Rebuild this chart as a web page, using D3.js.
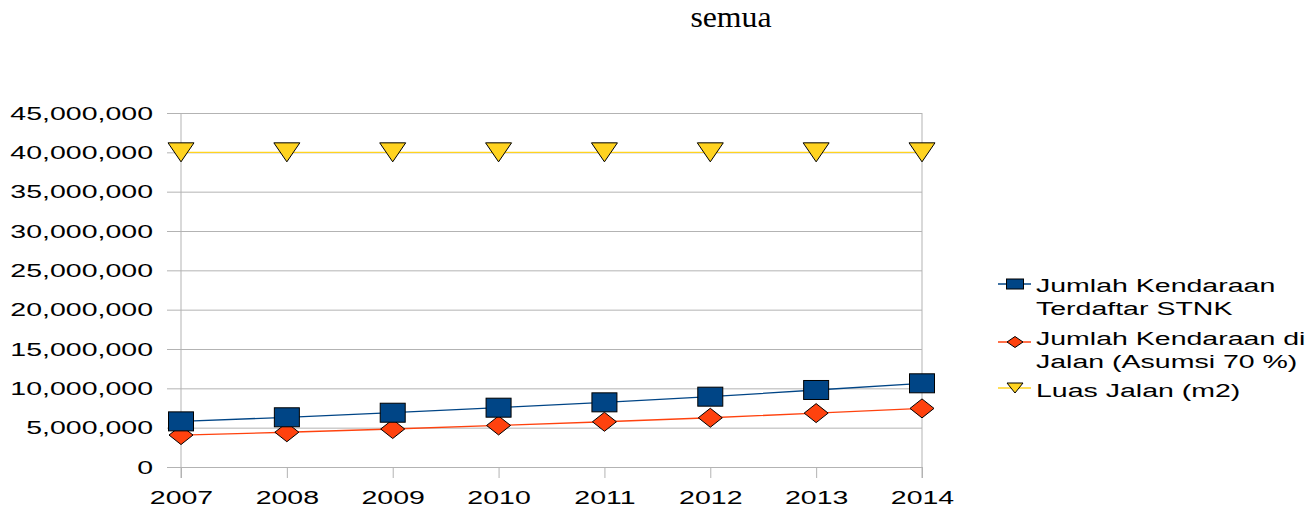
<!DOCTYPE html>
<html>
<head>
<meta charset="utf-8">
<title>semua</title>
<script src="https://d3js.org/d3.v7.min.js"></script>
<style>
	body { margin: 0; background: #fff; }
	text { font-family: "Liberation Sans", Arial, sans-serif; fill: #000; }
	.title { font-family: "Liberation Serif", "Times New Roman", serif; }
</style>
</head>
<body>
<script>
	// data
	var years = ["2007", "2008", "2009", "2010", "2011", "2012", "2013", "2014"];
	var stnk  = [5800000, 6320000, 6900000, 7540000, 8220000, 8940000, 9790000, 10640000];
	var jalan = [4060000, 4420000, 4830000, 5280000, 5750000, 6260000, 6850000, 7450000];
	var luas  = [40000000, 40000000, 40000000, 40000000, 40000000, 40000000, 40000000, 40000000];
	var yTicks = [0, 5000000, 10000000, 15000000, 20000000, 25000000, 30000000, 35000000, 40000000, 45000000];
	var seriesNames = [["Jumlah Kendaraan", "Terdaftar STNK"], ["Jumlah Kendaraan di", "Jalan (Asumsi 70 %)"], ["Luas Jalan (m2)"]];

	var W = 1311, H = 515;
	var plotL = 181, plotR = 922, plotT = 113, plotB = 467;
	var stretch = "scale(1.5,1)"; // the source image is stretched sideways

	var svg = d3.select("body").append("svg")
		.attr("width", W)
		.attr("height", H);

	var x = d3.scalePoint().domain(years).range([plotL, plotR]).padding(0);
	var y = d3.scaleLinear().domain([0, 45000000]).range([plotB, plotT]);

	// title
	svg.append("text")
		.attr("class", "title")
		.attr("x", 731)
		.attr("y", 27)
		.attr("text-anchor", "middle")
		.attr("transform", "translate(731,27) scale(1.06,1)")
		.attr("x", 0).attr("y", 0)
		.style("font-size", "30px")
		.text("semua");

	// y axis with gridlines
	var yAxis = svg.append("g")
		.attr("transform", "translate(" + plotL + ",0)")
		.call(d3.axisLeft(y).tickValues(yTicks).tickFormat(d3.format(","))
			.tickSizeInner(-(plotR - plotL)).tickSizeOuter(0).tickPadding(28));
	yAxis.select(".domain").remove();
	yAxis.selectAll("line").attr("x1", -14).attr("stroke", "#b3b3b3");
	yAxis.selectAll("text")
		.attr("x", null)
		.attr("transform", "translate(-28,0) " + stretch)
		.style("font-size", "19px");

	// x axis ticks
	var xAxis = svg.append("g")
		.attr("transform", "translate(0," + plotB + ")")
		.call(d3.axisBottom(x).tickSizeInner(11).tickSizeOuter(0));
	xAxis.select(".domain").remove();
	xAxis.selectAll("line").attr("stroke", "#b3b3b3");
	xAxis.selectAll("text")
		.attr("y", null)
		.attr("dy", null)
		.attr("transform", "translate(0,37) " + stretch)
		.style("font-size", "19px");

	// frame verticals
	[plotL, plotR].forEach(function(px){
		svg.append("line")
			.attr("x1", px).attr("x2", px)
			.attr("y1", plotT).attr("y2", plotB + 11)
			.attr("stroke", "#b3b3b3");
	});

	var line = d3.line()
		.x(function(d, i){ return x(years[i]); })
		.y(function(d){ return y(d); });

	function square(g, w, h){
		return g.append("rect").attr("x", -w/2).attr("y", -h/2).attr("width", w).attr("height", h);
	}
	function diamond(g, w, h){
		return g.append("path").attr("d", "M0," + (-h/2) + "L" + (w/2) + ",0L0," + (h/2) + "L" + (-w/2) + ",0Z");
	}
	function triangle(g, w, h){
		return g.append("path").attr("d", "M" + (-w/2) + "," + (-h/2) + "L" + (w/2) + "," + (-h/2) + "L0," + (h/2) + "Z");
	}

	var series = [
		{values: stnk,  color: "#004586", shape: square,   size: [25, 19], legSize: [17, 10]},
		{values: jalan, color: "#ff420e", shape: diamond,  size: [24, 19], legSize: [16, 11]},
		{values: luas,  color: "#ffd320", shape: triangle, size: [26, 19], legSize: [16, 10]}
	];

	// draw lines first, then markers on top
	series.slice().reverse().forEach(function(s){
		svg.append("path")
			.datum(s.values)
			.attr("d", line)
			.attr("fill", "none")
			.attr("stroke", s.color)
			.attr("stroke-width", 1.3);
	});
	series.slice().reverse().forEach(function(s){
		s.values.forEach(function(v, i){
			var g = svg.append("g").attr("transform", "translate(" + x(years[i]) + "," + y(v) + ")");
			s.shape(g, s.size[0], s.size[1])
				.attr("fill", s.color)
				.attr("stroke", "#000")
				.attr("stroke-width", 1);
		});
	});

	// legend
	var legendY = [284, 342, 388];
	var textY = [[292, 315], [345, 368], [397]];
	series.forEach(function(s, k){
		svg.append("line")
			.attr("x1", 998).attr("x2", 1031)
			.attr("y1", legendY[k]).attr("y2", legendY[k])
			.attr("stroke", s.color).attr("stroke-width", 1.3);
		var g = svg.append("g").attr("transform", "translate(1015," + legendY[k] + ")");
		s.shape(g, s.legSize[0], s.legSize[1])
			.attr("fill", s.color)
			.attr("stroke", "#000")
			.attr("stroke-width", 1);
		seriesNames[k].forEach(function(t, j){
			svg.append("text")
				.attr("transform", "translate(1036," + textY[k][j] + ") " + stretch)
				.style("font-size", "19px")
				.text(t);
		});
	});
</script>
</body>
</html>
